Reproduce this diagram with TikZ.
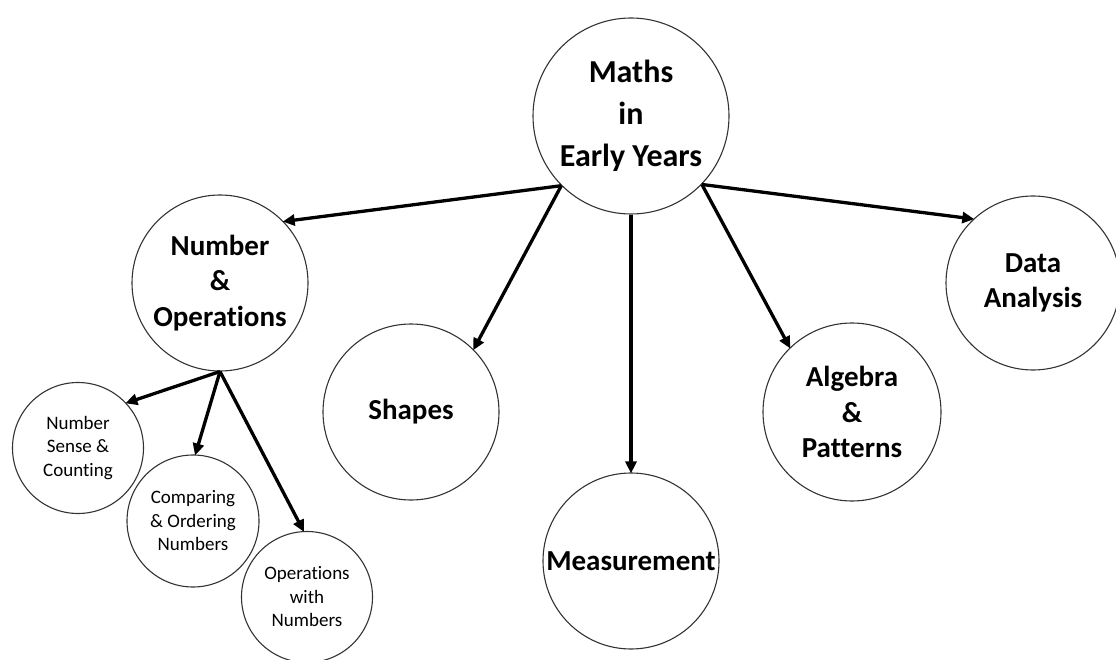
\documentclass[tikz,border=0pt]{standalone}
\usepackage{fontspec}
\setmainfont[Ligatures={NoCommon}]{Carlito}
\usetikzlibrary{arrows.meta}
\tikzset{
  big/.style={circle, draw=black!80, line width=1.1pt, inner sep=0pt, align=center,
    font=\bfseries\fontsize{29}{35.5}\selectfont},
  small/.style={circle, draw=black!80, line width=1.1pt, inner sep=0pt, align=center,
    font=\fontsize{19}{23.5}\selectfont},
  arr/.style={line width=3.3pt, -{Triangle[length=12pt,width=11pt]}, shorten >=-1pt}
}
\begin{document}
\begin{tikzpicture}[x=1pt,y=-1pt]
\useasboundingbox (0,0) rectangle (1116,660);
\node[big, minimum size=196pt, font=\bfseries\fontsize{32}{42}\selectfont] (maths) at (631,116) {Maths\\in\\Early Years};
\node[big, minimum size=176pt] (num) at (220,283) {Number\\\&\\Operations};
\node[big, minimum size=176pt] (shapes) at (411,412) {Shapes};
\node[big, minimum size=176pt] (meas) at (631,561) {Measurement};
\node[big, minimum size=178pt] (alg) at (852,412) {Algebra\\\&\\Patterns};
\node[big, minimum size=174pt] (data) at (1033,283) {Data\\Analysis};
\node[small, minimum size=131pt] (nsc) at (78,448) {Number\\Sense \&\\Counting};
\node[small, minimum size=132pt] (cmp) at (193,521) {Comparing\\\& Ordering\\Numbers};
\node[small, minimum size=131pt] (ops) at (307,597) {Operations\\with\\Numbers};
\draw[arr] (maths.225) -- (num.44);
\draw[arr] (maths.225) -- (shapes.45);
\draw[arr] (maths.south) -- (meas.north);
\draw[arr] (maths.316) -- (alg.134);
\draw[arr] (maths.316) -- (data.133);
\draw[arr] (num.south) -- (nsc.43);
\draw[arr] (num.south) -- (cmp.88);
\draw[arr] (num.south) -- (ops.93);
\end{tikzpicture}
\end{document}
